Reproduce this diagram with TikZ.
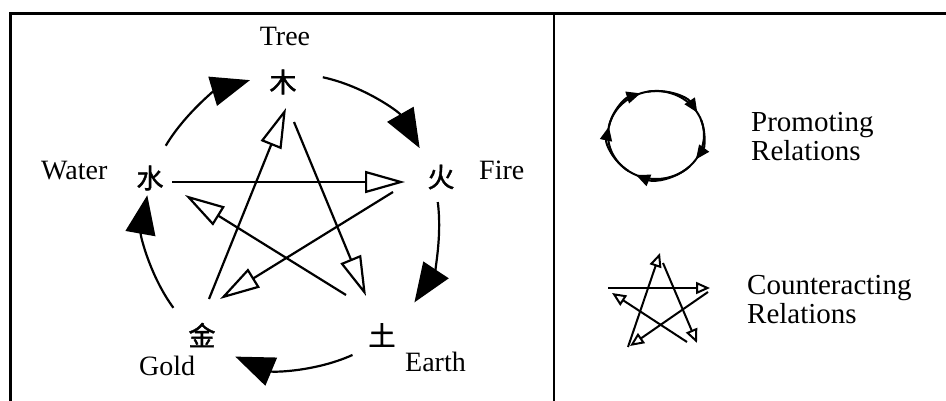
\documentclass[tikz,border=0pt]{standalone}
\usepackage{fontspec}
\setmainfont{Liberation Serif}
\newfontfamily\cjk[FakeBold=1.5]{Noto Sans CJK SC}
\usetikzlibrary{arrows.meta,calc}
\begin{document}
\begin{tikzpicture}[x=1pt,y=-1pt,
  frame/.style={line width=2.7pt},
  lbl/.style={font=\fontsize{28}{30}\selectfont, inner sep=0pt, anchor=base west},
  elem/.style={font=\cjk\fontsize{27}{27}\selectfont, inner sep=0pt},
  promo/.style={line width=2.2pt, -{Triangle[length=39pt,width=30pt]}},
  counter/.style={line width=2.2pt, -{Triangle[open,length=40pt,width=22pt]}},
  minipromo/.style={line width=2pt, -{Triangle[length=14pt,width=12pt]}},
  minicounter/.style={line width=2pt, -{Triangle[open,length=14pt,width=12pt]}},
  legend/.style={font=\fontsize{29}{29}\selectfont, inner sep=0pt, anchor=north west, align=left}
]
\useasboundingbox (0,0) rectangle (946,401);
% frame
\draw[frame] (10.7,401) -- (10.7,13.5) -- (946,13.5);
\draw[frame] (554,13.5) -- (554,401);

% element characters
\node[elem] (tree)  at (283,82)  {木};
\node[elem] (fire)  at (441,177) {火};
\node[elem] (earth) at (382,335) {土};
\node[elem] (gold)  at (202,335) {金};
\node[elem] (water) at (150,178) {水};

% labels
\node[lbl, anchor=base] (ltree) at (285,46) {Tree};
\node[lbl] (lwater) at (41,180) {Water};
\node[lbl] (lfire)  at (479,180) {Fire};
\node[lbl] (lgold)  at (139,375) {Gold};
\node[lbl] (learth) at (405,371) {Earth};

% promoting cycle
\coordinate (O) at (292,221);
\draw[promo] ($(O)+(149.2:147pt)$) arc[start angle=149.2, end angle=106.6, radius=147pt];
\draw[promo] ($(O)+(77.9:147pt)$)  arc[start angle=77.9,  end angle=29.7,  radius=147pt];
\draw[promo] ($(O)+(7.4:147pt)$)   arc[start angle=7.4,   end angle=-33.6, radius=147pt];
\draw[promo] ($(O)+(-65.7:147pt)$) arc[start angle=-65.7, end angle=-112.7, radius=147pt];
\draw[promo] ($(O)+(-143.8:147pt)$) arc[start angle=-143.8, end angle=-190.1, radius=147pt];

% counteracting star
\coordinate (wa) at (172,182); \coordinate (fb) at (405,182);
\coordinate (fa) at (393,192); \coordinate (gb) at (220,299);
\coordinate (ga) at (209,299); \coordinate (tb) at (286,108);
\coordinate (ta) at (294,122); \coordinate (eb) at (366,296);
\coordinate (ea) at (346,295); \coordinate (wb) at (185,195);
\draw[counter] (wa) -- (fb);
\draw[counter] (fa) -- (gb);
\draw[counter] (ga) -- (tb);
\draw[counter] (ta) -- (eb);
\draw[counter] (ea) -- (wb);

% legend: promoting
\coordinate (P) at (656,135);
\draw[line width=2pt] (P) ellipse[x radius=48pt, y radius=44pt];
\draw[minipromo] ($(P)+(169:48pt and 44pt)$) arc[start angle=169, end angle=108.8, x radius=48pt, y radius=44pt];
\draw[minipromo] ($(P)+(100:48pt and 44pt)$) arc[start angle=100, end angle=30.7, x radius=48pt, y radius=44pt];
\draw[minipromo] ($(P)+(20:48pt and 44pt)$) arc[start angle=20, end angle=-33.7, x radius=48pt, y radius=44pt];
\draw[minipromo] ($(P)+(-45:48pt and 44pt)$) arc[start angle=-45, end angle=-114.6, x radius=48pt, y radius=44pt];
\draw[minipromo] ($(P)+(-125:48pt and 44pt)$) arc[start angle=-125, end angle=-191, x radius=48pt, y radius=44pt];
\node[legend] (lprom) at (751,112) {Promoting\\Relations};

% legend: counteracting
\coordinate (ma1) at (608,288); \coordinate (mb1) at (710,288);
\coordinate (ma2) at (628,347); \coordinate (mb2) at (660,253);
\coordinate (ma3) at (663,263); \coordinate (mb3) at (697,343);
\coordinate (ma4) at (687,342); \coordinate (mb4) at (612,293);
\coordinate (ma5) at (708,292); \coordinate (mb5) at (630,346);
\draw[minicounter] (ma1) -- (mb1);
\draw[minicounter] (ma2) -- (mb2);
\draw[minicounter] (ma3) -- (mb3);
\draw[minicounter] (ma4) -- (mb4);
\draw[minicounter] (ma5) -- (mb5);
\node[legend] (lcount) at (747,275) {Counteracting\\Relations};
\end{tikzpicture}
\end{document}
